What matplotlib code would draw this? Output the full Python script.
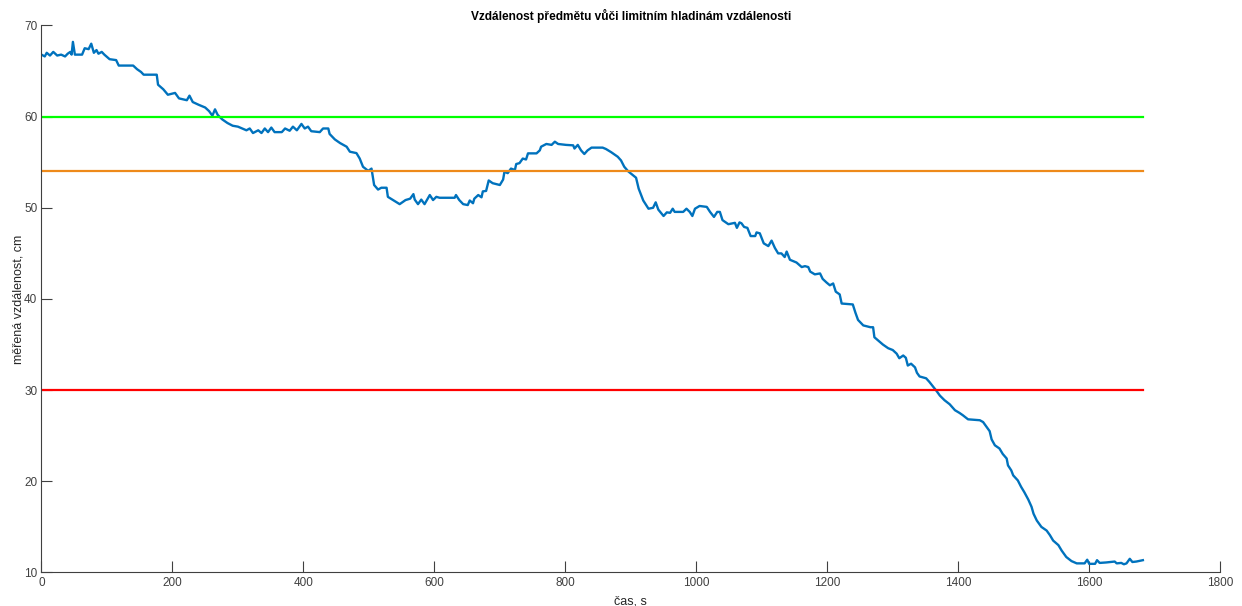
import matplotlib
matplotlib.use("Agg")
import matplotlib.pyplot as plt
import numpy as np

plt.rcParams['font.family'] = ['Liberation Sans', 'DejaVu Sans']

# naměřená vzdálenost v čase (s, cm)
cas = [0, 5, 8, 13, 18, 24, 30, 36, 40, 44, 46, 48, 51, 62, 66, 72, 76, 80, 84, 87,
       92, 96, 104, 114, 118, 140, 146, 152, 156, 176, 178, 186, 193, 204, 210, 222,
       226, 231, 240, 250, 256, 261, 265, 269, 276, 284, 292, 300,
       313, 318, 323, 331, 336, 341, 346, 351, 356, 367, 372, 379, 384, 390, 397, 402,
       407, 412, 425, 430, 438, 440, 448, 456, 466, 471, 481, 486, 491, 499, 504, 508,
       514, 519, 527, 529, 537, 547, 556, 563, 568, 570, 575, 580, 585, 593, 598, 603,
       608, 631, 633, 638, 644, 651, 654, 659, 661, 667, 672, 674, 679, 683, 689, 700,
       705, 707, 712, 717, 723, 725, 730, 735, 740, 743, 756, 761, 763, 771, 779, 784,
       789, 801, 812, 814, 819, 824, 829, 834, 840, 857, 862, 870, 880, 885, 890, 896,
       903, 908, 912,
       919, 927, 934, 938, 942, 950, 955, 960, 964, 967, 980, 985, 990, 994, 998, 1005,
       1016, 1021, 1027, 1032, 1036, 1040, 1049, 1059, 1062, 1066, 1069, 1073, 1078,
       1083, 1090, 1092, 1097, 1103, 1110, 1115, 1120, 1125, 1130, 1135, 1138, 1143,
       1153, 1161, 1166, 1171, 1174, 1181, 1189, 1193, 1199, 1204, 1209, 1213, 1219,
       1222, 1239, 1243, 1247, 1255, 1266, 1270, 1272, 1280, 1285, 1293, 1300, 1306,
       1310, 1316, 1320, 1323, 1328, 1334, 1337, 1341, 1351, 1356, 1362, 1367, 1372,
       1379, 1387, 1395, 1402, 1407, 1415, 1433, 1438, 1443, 1448, 1451, 1456, 1463,
       1468, 1474, 1476, 1481, 1484, 1491, 1496, 1501, 1507, 1512, 1515, 1520, 1527,
       1535, 1540, 1545, 1553, 1558, 1565, 1573, 1581, 1593, 1597, 1600, 1609, 1612,
       1616, 1626, 1639, 1642, 1649, 1653, 1657, 1662, 1666, 1672, 1682]
vzdalenost = [66.8, 66.6, 67.0, 66.7, 67.1, 66.7, 66.8, 66.6, 66.9, 67.1, 66.8, 68.2,
              66.8, 66.8, 67.5, 67.4, 68.0, 67.0, 67.3, 66.9, 67.1, 66.8, 66.3, 66.2,
              65.6, 65.6, 65.2, 64.9, 64.6, 64.6, 63.5, 63.0, 62.4, 62.6, 62.0, 61.8,
              62.3, 61.6, 61.3, 61.0, 60.6, 60.1, 60.8, 60.2, 59.7, 59.3, 59.0, 58.9,
              58.5, 58.7, 58.2, 58.5, 58.2, 58.7, 58.3, 58.8, 58.3, 58.3, 58.7, 58.45,
              58.9, 58.5, 59.2, 58.7, 58.9, 58.4, 58.3, 58.7, 58.7, 58.1, 57.5, 57.1,
              56.7, 56.15, 56.0, 55.4, 54.5, 54.05, 54.3, 52.5, 52.0, 52.2, 52.2, 51.2,
              50.85, 50.4, 50.85, 51.0, 51.5, 50.9, 50.4, 50.9, 50.4, 51.4, 50.85, 51.2,
              51.1, 51.1, 51.4, 50.85, 50.4, 50.3, 50.8, 50.5, 51.0, 51.4, 51.15, 51.8,
              51.85, 53.0, 52.7, 52.5, 53.1, 53.95, 53.8, 54.3, 54.15, 54.8, 54.9, 55.4,
              55.3, 55.97, 55.97, 56.3, 56.7, 57.0, 56.9, 57.25, 57.0, 56.9, 56.85, 56.5,
              56.9, 56.3, 55.9, 56.3, 56.6, 56.6, 56.45, 56.1, 55.6, 55.2, 54.5, 54.0,
              53.6, 53.3, 52.1,
              50.8, 49.9, 50.0, 50.6, 49.8, 49.1, 49.5, 49.45, 49.9, 49.55, 49.55, 49.9,
              49.55, 49.1, 49.9, 50.2, 50.1, 49.55, 49.0, 49.55, 49.55, 48.65, 48.2,
              48.35, 47.8, 48.4, 48.3, 47.9, 47.8, 46.9, 46.9, 47.3, 47.2, 46.1, 45.8,
              46.4, 45.6, 45.0, 45.0, 44.6, 45.2, 44.3, 44.0, 43.5, 43.6, 43.5, 43.0,
              42.7, 42.8, 42.2, 41.8, 41.5, 41.7, 40.8, 40.5,
              39.5, 39.4, 38.5, 37.7, 37.1, 36.9, 36.9, 35.8, 35.3, 35.0, 34.6, 34.4,
              34.0, 33.5, 33.8, 33.55, 32.7, 32.9, 32.5, 31.9, 31.5, 31.3, 30.9, 30.35,
              29.9, 29.4, 28.9, 28.45, 27.8, 27.5, 27.25, 26.8, 26.7, 26.5, 26.0, 25.5,
              24.6, 23.95, 23.6, 23.0, 22.5, 21.75, 21.2, 20.65, 20.1, 19.4, 18.8, 18.0,
              17.2, 16.45, 15.7, 15.0, 14.6, 14.1, 13.5, 13.0, 12.4, 11.7, 11.25, 11.0,
              11.0, 11.4, 10.95, 10.95, 11.35, 11.05, 11.1, 11.2, 11.0, 11.05, 10.9,
              11.0, 11.5, 11.15, 11.2, 11.35]

# limitní hladiny
hladiny = [60, 54, 30]
barvy_hladin = ['#00FF00', '#EE8A1A', '#FF0000']

fig = plt.figure(figsize=(12.42, 6.06), dpi=100)
ax = fig.add_axes([0.0334, 0.0553, 0.949, 0.9027])

ax.plot(cas, vzdalenost, color='#0072BD', lw=1.7)
for h, c in zip(hladiny, barvy_hladin):
    ax.plot([cas[0], cas[-1]], [h, h], color=c, lw=1.6)

ax.set_xlim(0, 1800)
ax.set_ylim(10, 70)
ax.set_xticks(np.arange(0, 1801, 200))
ax.set_yticks(np.arange(10, 71, 10))

for s in ['top', 'right']:
    ax.spines[s].set_visible(False)
for s in ['left', 'bottom']:
    ax.spines[s].set_color('#404040')
    ax.spines[s].set_linewidth(0.8)
ax.tick_params(direction='in', length=8, width=0.8, color='#404040',
               labelcolor='#404040', labelsize=8.5, pad=3)

ax.set_title('Vzdálenost předmětu vůči limitním hladinám vzdálenosti',
             fontsize=8.6, fontweight='bold', pad=4)
ax.set_xlabel('čas, s', fontsize=9, color='#262626', labelpad=5)
ax.set_ylabel('měřená vzdálenost, cm', fontsize=9, color='#262626', labelpad=0)

fig.savefig('out.png', dpi=100)
